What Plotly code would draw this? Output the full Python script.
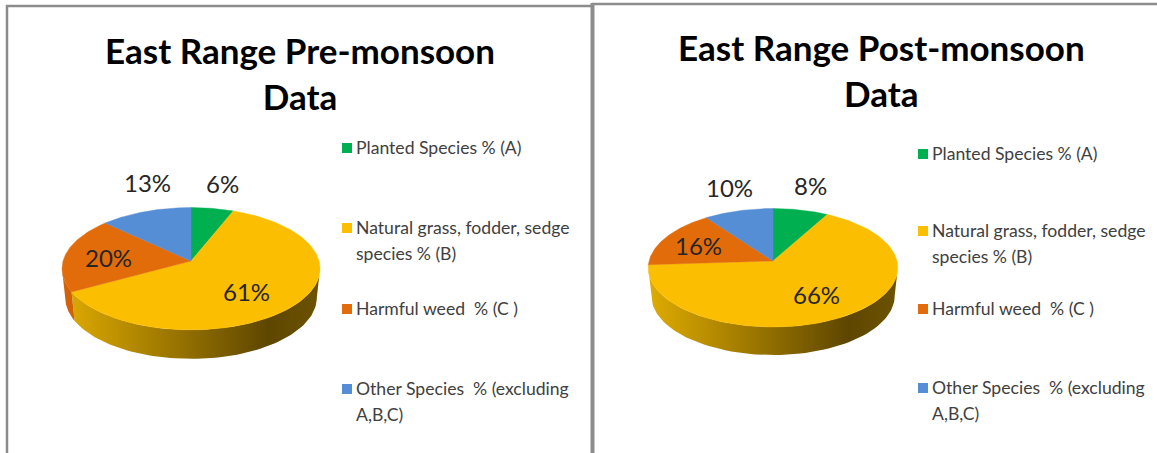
import numpy as np
import plotly.graph_objects as go

# ---- data ----
categories = ["Planted Species % (A)",
              "Natural grass, fodder, sedge<br>species % (B)",
              "Harmful weed  % (C )",
              "Other Species  % (excluding<br>A,B,C)"]
pre_values = [6, 61, 20, 13]
post_values = [8, 66, 16, 10]
pre_title = "East Range Pre-monsoon<br>Data"
post_title = "East Range Post-monsoon<br>Data"

# ---- style ----
colors = ["#00B050", "#FCBE00", "#E36C0A", "#558ED5"]
rim_scales = [
    [[0, "#009040"], [1, "#004a20"]],
    [[0, "#E0AC00"], [0.80, "#5E4600"], [1, "#6C5300"]],
    [[0, "#D46208"], [1, "#7a3a00"]],
    [[0, "#4a7ab8"], [1, "#2a4a70"]],
]
FONT = "Lato"
TEXT = "#262626"
LEGEND_LINE = 26

pre_geo = dict(cx=191, cy=261, A=128, c=60.2, k=0.126, t=29, s=0.975)
post_geo = dict(cx=773, cy=261, A=124, c=58.5, k=0.114, t=28, s=0.975)
pre_label_shift = [(10, -25), (-49, -13), (43, 4), (2.5, -28.5)]
post_label_shift = [(10, -24), (-30, -21), (32, 8), (-9, -23)]


def project(g, theta, r=1.0):
    u, v = np.sin(theta), np.cos(theta)
    w = 1 / (1 + g["k"] * r * v)
    return g["cx"] + g["A"] * r * u * w, g["cy"] - g["c"] * r * v * w


def slice_bounds(values):
    edges = np.concatenate([[0], np.cumsum(values)]) / np.sum(values) * 2 * np.pi
    return list(zip(edges[:-1], edges[1:]))


def add_pie(fig, values, g, shifts):
    bounds = slice_bounds(values)
    right = np.arccos(-g["k"])
    left = 2 * np.pi - right
    xl = g["cx"] - g["A"] * 1.01
    xr = g["cx"] + g["A"] * 1.01
    # side wall
    for (a, b), scale in zip(bounds, rim_scales):
        lo, hi = max(a, right), min(b, left)
        if hi <= lo:
            continue
        th = np.linspace(lo, hi, 80)
        x, y = project(g, th)
        xb = g["cx"] + g["s"] * (x - g["cx"])
        yb = y + g["t"]
        fig.add_trace(go.Scatter(
            x=np.concatenate([x, xb[::-1]]), y=np.concatenate([y, yb[::-1]]),
            mode="lines", line=dict(width=0), fill="toself",
            fillgradient=dict(type="horizontal", colorscale=scale, start=xl, stop=xr),
            hoverinfo="skip", showlegend=False))
    # top face
    for (a, b), col in zip(bounds, colors):
        th = np.linspace(a, b, 120)
        x, y = project(g, th)
        fig.add_trace(go.Scatter(
            x=np.concatenate([[g["cx"]], x, [g["cx"]]]),
            y=np.concatenate([[g["cy"]], y, [g["cy"]]]),
            mode="lines", line=dict(width=0.4, color=col), fill="toself",
            fillcolor=col, hoverinfo="skip", showlegend=False))
    # value labels
    for (a, b), v, (dx, dy) in zip(bounds, values, shifts):
        x, y = project(g, (a + b) / 2)
        fig.add_annotation(x=float(x), y=float(y), text=f"{v}%", showarrow=False,
                           xshift=dx, yshift=-dy,
                           font=dict(family=FONT, size=24, color=TEXT))


def add_legend(fig, x_mark, ys):
    for name, col, y in zip(categories, colors, ys):
        fig.add_trace(go.Scatter(x=[x_mark], y=[y], mode="markers",
                                 marker=dict(symbol="square", size=10, color=col),
                                 hoverinfo="skip", showlegend=False))
        for i, line in enumerate(name.split("<br>")):
            fig.add_annotation(x=x_mark + 7, y=y - 1 + i * LEGEND_LINE, text=line, showarrow=False,
                               xanchor="left", yanchor="middle", align="left",
                               font=dict(family=FONT, size=17.6, color="#404040"))


fig = go.Figure()
add_pie(fig, pre_values, pre_geo, pre_label_shift)
add_pie(fig, post_values, post_geo, post_label_shift)
add_legend(fig, 347, [148, 228, 309, 389])
add_legend(fig, 923, [154, 231, 309, 388])

for title, x, y in ((pre_title, 300, 27), (post_title, 881, 24)):
    fig.add_annotation(x=x, y=y, text=f"<b>{title}</b>", showarrow=False,
                       xanchor="center", yanchor="top", align="center",
                       font=dict(family=FONT, size=35, color="#000000"))

frame = "#8c8c8c"
for x0, y0, x1, y1, w in [(6, 6, 592, 6, 2.5), (7, 5, 7, 453, 2.5),
                          (592.5, 3, 592.5, 453, 4), (592, 4, 1157, 4, 2.5)]:
    fig.add_shape(type="line", x0=x0, y0=y0, x1=x1, y1=y1,
                  line=dict(color=frame, width=w), layer="below")

fig.update_layout(
    width=1157, height=453, autosize=False,
    margin=dict(l=0, r=0, t=0, b=0),
    paper_bgcolor="white", plot_bgcolor="white",
    xaxis=dict(range=[0, 1157], visible=False, fixedrange=True),
    yaxis=dict(range=[453, 0], visible=False, fixedrange=True),
    showlegend=False,
)
fig.write_html("out.html", config=dict(displayModeBar=False),
               post_script="document.body.style.margin='0';document.body.style.overflow='hidden';")
